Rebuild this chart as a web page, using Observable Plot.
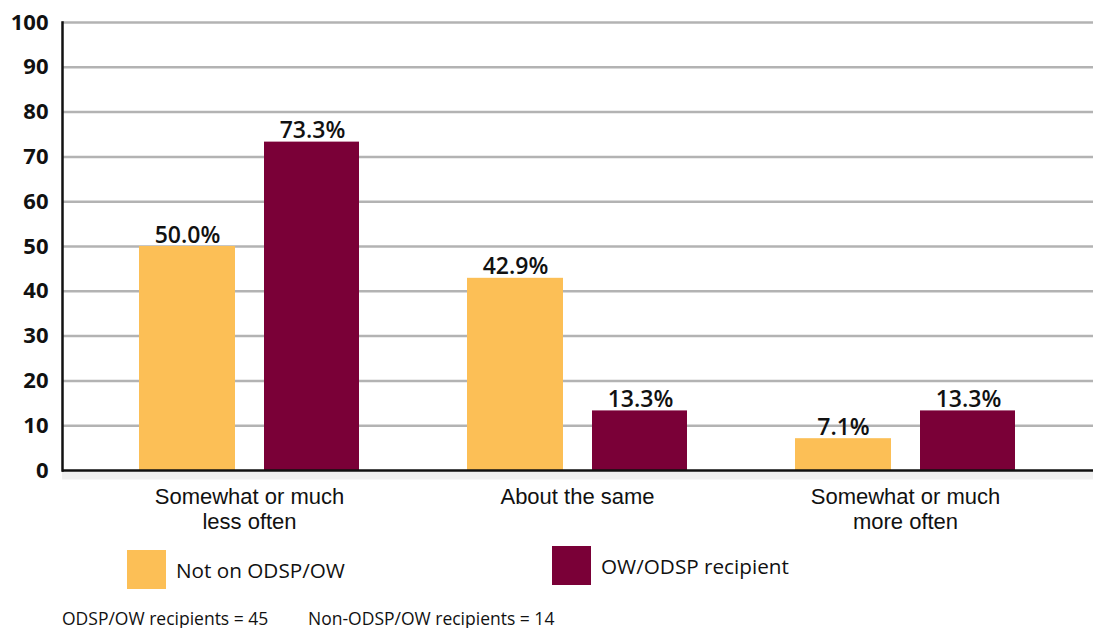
<!DOCTYPE html>
<html>
<head>
<meta charset="utf-8">
<script src="https://cdn.jsdelivr.net/npm/d3@7"></script>
<script src="https://cdn.jsdelivr.net/npm/@observablehq/plot@0.6"></script>
<style>
  html, body { margin: 0; padding: 0; background: #fff; }
  body { width: 1093px; height: 628px; position: relative; overflow: hidden; font-family: "Open Sans", "Noto Sans", sans-serif; color: #111; }
  #chart { position: absolute; left: 0; top: 0; }
  .legend-item { position: absolute; display: flex; align-items: center; font-size: 20.7px; }
  .swatch { width: 39px; height: 39px; margin-right: 10px; }
  .note { position: absolute; top: 606px; font-size: 17.5px; }
</style>
</head>
<body>
<div id="chart"></div>
<div class="legend-item" style="left:127px; top:550px;"><div class="swatch" style="background:#FCBF56"></div><span id="lg0"></span></div>
<div class="legend-item" style="left:552px; top:546px;"><div class="swatch" style="background:#7A0037"></div><span id="lg1"></span></div>
<div class="note" style="left:62px;" id="n0"></div>
<div class="note" style="left:308px;" id="n1"></div>
<script>
const categories = ["Somewhat or much\nless often", "About the same", "Somewhat or much\nmore often"];
const seriesNames = ["Not on ODSP/OW", "OW/ODSP recipient"];
const notOnValues = [50.0, 42.9, 7.1];
const recipientValues = [73.3, 13.3, 13.3];
const yTicks = [0, 10, 20, 30, 40, 50, 60, 70, 80, 90, 100];
const notes = ["ODSP/OW recipients = 45", "Non-ODSP/OW recipients = 14"];
const colors = ["#FCBF56", "#7A0037"];

const notOn = categories.map((c, i) => ({category: c, value: notOnValues[i]}));
const recip = categories.map((c, i) => ({category: c, value: recipientValues[i]}));

const labelFont = "'Open Sans', 'Noto Sans', sans-serif";
const line = (c, k) => (c.split("\n")[k] || "");

const chart = Plot.plot({
  width: 1093,
  height: 535,
  marginLeft: 62,
  marginRight: 0,
  marginTop: 22,
  marginBottom: 65,
  style: {fontFamily: labelFont, color: "#111", background: "white"},
  x: {domain: categories, range: [84, 1070], padding: 0, axis: null},
  y: {domain: [0, 100]},
  marks: [
    Plot.ruleY(yTicks.filter(d => d > 0), {stroke: "#b3b3b3", strokeWidth: 2.5}),
    Plot.ruleY([0], {stroke: "#000", strokeOpacity: 0.06, strokeWidth: 8, dy: 5}),
    Plot.barY(notOn, {x: "category", y: "value", fill: colors[0], insetLeft: 54, insetRight: 178}),
    Plot.barY(recip, {x: "category", y: "value", fill: colors[1], insetLeft: 179, insetRight: 54}),
    Plot.text(notOn, {x: "category", y: "value", text: d => d.value.toFixed(1) + "%", dx: -62, dy: -4, lineAnchor: "bottom", fontSize: 23, fontWeight: 600, fill: "#111"}),
    Plot.text(recip, {x: "category", y: "value", text: d => d.value.toFixed(1) + "%", dx: 63, dy: -4, lineAnchor: "bottom", fontSize: 23, fontWeight: 600, fill: "#111"}),
    Plot.ruleY([0], {stroke: "#111", strokeWidth: 2.5}),
    Plot.frame({anchor: "left", stroke: "#111", strokeWidth: 2.5}),
    Plot.axisY({ticks: yTicks, tickSize: 0, tickPadding: 14, fontSize: 22, fontWeight: 700, label: null, fill: "#111"}),
    Plot.text(categories, {x: d => d, text: d => line(d, 0), frameAnchor: "bottom", lineAnchor: "middle", dy: 26, fontSize: 22, fontFamily: "'Liberation Sans', Arial, sans-serif", fill: "#111"}),
    Plot.text(categories, {x: d => d, text: d => line(d, 1), frameAnchor: "bottom", lineAnchor: "middle", dy: 51, fontSize: 22, fontFamily: "'Liberation Sans', Arial, sans-serif", fill: "#111"})
  ]
});
document.getElementById("chart").appendChild(chart);
document.getElementById("lg0").textContent = seriesNames[0];
document.getElementById("lg1").textContent = seriesNames[1];
document.getElementById("n0").textContent = notes[0];
document.getElementById("n1").textContent = notes[1];
</script>
</body>
</html>
